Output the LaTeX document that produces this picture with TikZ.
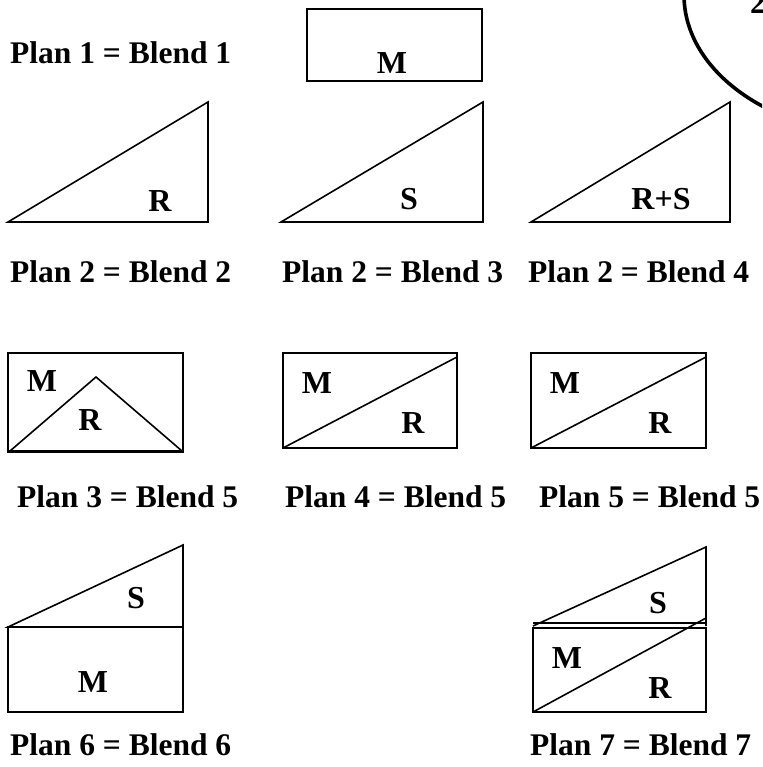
\documentclass[tikz,border=0pt]{standalone}
\usepackage{fontspec}
\setmainfont{Liberation Serif}
\begin{document}
\begin{tikzpicture}
[x=1pt,y=-1pt,
 plan/.style={anchor=west,inner sep=0pt,font=\fontsize{31.5}{36}\selectfont\bfseries},
 part/.style={inner sep=0pt,font=\fontsize{32}{36}\selectfont\bfseries},
 edge/.style={line width=1.6pt,line join=miter}]
\useasboundingbox (0,0) rectangle (762,767);
\clip (0,0) rectangle (762,767);
% Captions
\node[plan] (P1)  at (10,53)   {Plan 1 = Blend 1};
\node[plan] (P2a) at (10,272)  {Plan 2 = Blend 2};
\node[plan] (P2b) at (282,272) {Plan 2 = Blend 3};
\node[plan] (P2c) at (528,272) {Plan 2 = Blend 4};
\node[plan] (P3)  at (17,497)  {Plan 3 = Blend 5};
\node[plan] (P4)  at (285,497) {Plan 4 = Blend 5};
\node[plan] (P5)  at (539,497) {Plan 5 = Blend 5};
\node[plan] (P6)  at (10,745)  {Plan 6 = Blend 6};
\node[plan] (P7)  at (530,745) {Plan 7 = Blend 7};

% Blend 1
\draw[edge] (307,9) rectangle (482,81);
\node[part] (M1) at (392,63) {M};

% Blends 2, 3, 4
\draw[edge] (8,222) -- (208,102) -- (208,222) -- cycle;
\node[part] (R2) at (160,201) {R};
\draw[edge] (281,222) -- (483,102) -- (483,222) -- cycle;
\node[part] (S3) at (409,199) {S};
\draw[edge] (531,222) -- (730,102) -- (730,222) -- cycle;
\node[part] (RS4) at (661,199) {R+S};

% Plan 3
\draw[edge] (8,353) rectangle (183,452);
\draw[edge] (10,451) -- (96,377) -- (182,451);
\draw[line width=2.6pt] (8,451) -- (183,451);
\node[part] (M5a) at (42,381) {M};
\node[part] (R5a) at (90,420) {R};

% Plans 4 and 5
\draw[edge] (283,353) rectangle (457,448);
\draw[edge] (283,448) -- (457,357);
\node[part] (M5b) at (317,383) {M};
\node[part] (R5b) at (413,423) {R};
\draw[edge] (531,353) rectangle (706,448);
\draw[edge] (531,448) -- (706,357);
\node[part] (M5c) at (565,383) {M};
\node[part] (R5c) at (660,423) {R};

% Plan 6
\draw[edge] (8,627) -- (183,545) -- (183,627) -- cycle;
\draw[edge] (8,627) rectangle (183,712);
\node[part] (S6) at (136,598) {S};
\node[part] (M6) at (93,682) {M};

% Plan 7
\draw[edge] (533,626) -- (706,547) -- (706,626);
\draw[edge] (533,623) -- (706,623);
\draw[edge] (533,628) rectangle (706,712);
\draw[edge] (533,712) -- (706,618);
\node[part] (S7) at (658,603) {S};
\node[part] (M7) at (567,658) {M};
\node[part] (R7) at (660,688) {R};

% Cut-off figure at the corner
\draw[line width=3.6pt] (884,-5) ellipse [x radius=200,y radius=140];
\node[part,anchor=south] (N2) at (758,14) {2};
\end{tikzpicture}
\end{document}
